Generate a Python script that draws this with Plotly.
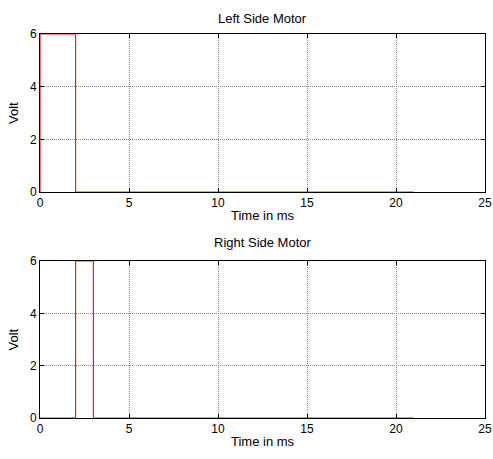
import plotly.graph_objects as go

left_time = [0, 0, 2, 21]
left_volt = [0, 6, 0, 0]
right_time = [0, 2, 3, 21]
right_volt = [0, 6, 0, 0]

x_ticks = [0, 5, 10, 15, 20, 25]
y_ticks = [0, 2, 4, 6]

fig = go.Figure()
fig.add_trace(go.Scatter(x=left_time, y=left_volt, mode="lines", line=dict(color="#ff1a1a", width=1.2, shape="hv"),
                         xaxis="x", yaxis="y", showlegend=False, cliponaxis=False))
fig.add_trace(go.Scatter(x=right_time, y=right_volt, mode="lines", line=dict(color="#ff1a1a", width=1.2, shape="hv"),
                         xaxis="x2", yaxis="y2", showlegend=False, cliponaxis=False))

font = dict(family="Liberation Sans, Arial", size=12, color="black")
axis_common = dict(showline=True, linecolor="black", linewidth=1, mirror="allticks",
                   ticks="inside", ticklen=4, tickcolor="black", automargin=False,
                   showgrid=True, gridcolor="#888888", griddash="1px,1px", gridwidth=1,
                   zeroline=False, tickfont=font)

top_dom = [0.5885, 1]
bot_dom = [0, 0.4089]
lab = dict(size=13, family="Liberation Sans, Arial", color="black")

fig.update_layout(
    width=493, height=459,
    margin=dict(l=40, r=8, t=34, b=41),
    paper_bgcolor="white", plot_bgcolor="white",
    font=font,
    xaxis=dict(domain=[0, 1], anchor="y", range=[0, 25], tickvals=x_ticks, **axis_common),
    yaxis=dict(domain=top_dom, anchor="x", range=[0, 6], tickvals=y_ticks, **axis_common),
    xaxis2=dict(domain=[0, 1], anchor="y2", range=[0, 25], tickvals=x_ticks, **axis_common),
    yaxis2=dict(domain=bot_dom, anchor="x2", range=[0, 6], tickvals=y_ticks, **axis_common),
    annotations=[
        dict(text="Left Side Motor", x=0.5, y=top_dom[1], xref="paper", yref="paper", xanchor="center",
             yanchor="middle", yshift=16, showarrow=False, font=lab),
        dict(text="Right Side Motor", x=0.5, y=bot_dom[1], xref="paper", yref="paper", xanchor="center",
             yanchor="middle", yshift=18, showarrow=False, font=lab),
        dict(text="Time in ms", x=0.5, y=top_dom[0], xref="paper", yref="paper", xanchor="center",
             yanchor="middle", yshift=-23, showarrow=False, font=lab),
        dict(text="Time in ms", x=0.5, y=bot_dom[0], xref="paper", yref="paper", xanchor="center",
             yanchor="middle", yshift=-23, showarrow=False, font=lab),
        dict(text="Volt", x=0, y=(top_dom[0] + top_dom[1]) / 2, xref="paper", yref="paper", xanchor="center",
             yanchor="middle", xshift=-27, textangle=-90, showarrow=False, font=lab),
        dict(text="Volt", x=0, y=(bot_dom[0] + bot_dom[1]) / 2, xref="paper", yref="paper", xanchor="center",
             yanchor="middle", xshift=-27, textangle=-90, showarrow=False, font=lab),
    ],
)

fig.write_html("out.html", config={"displayModeBar": False},
               post_script="document.body.style.margin='0';document.body.style.overflow='hidden';")
